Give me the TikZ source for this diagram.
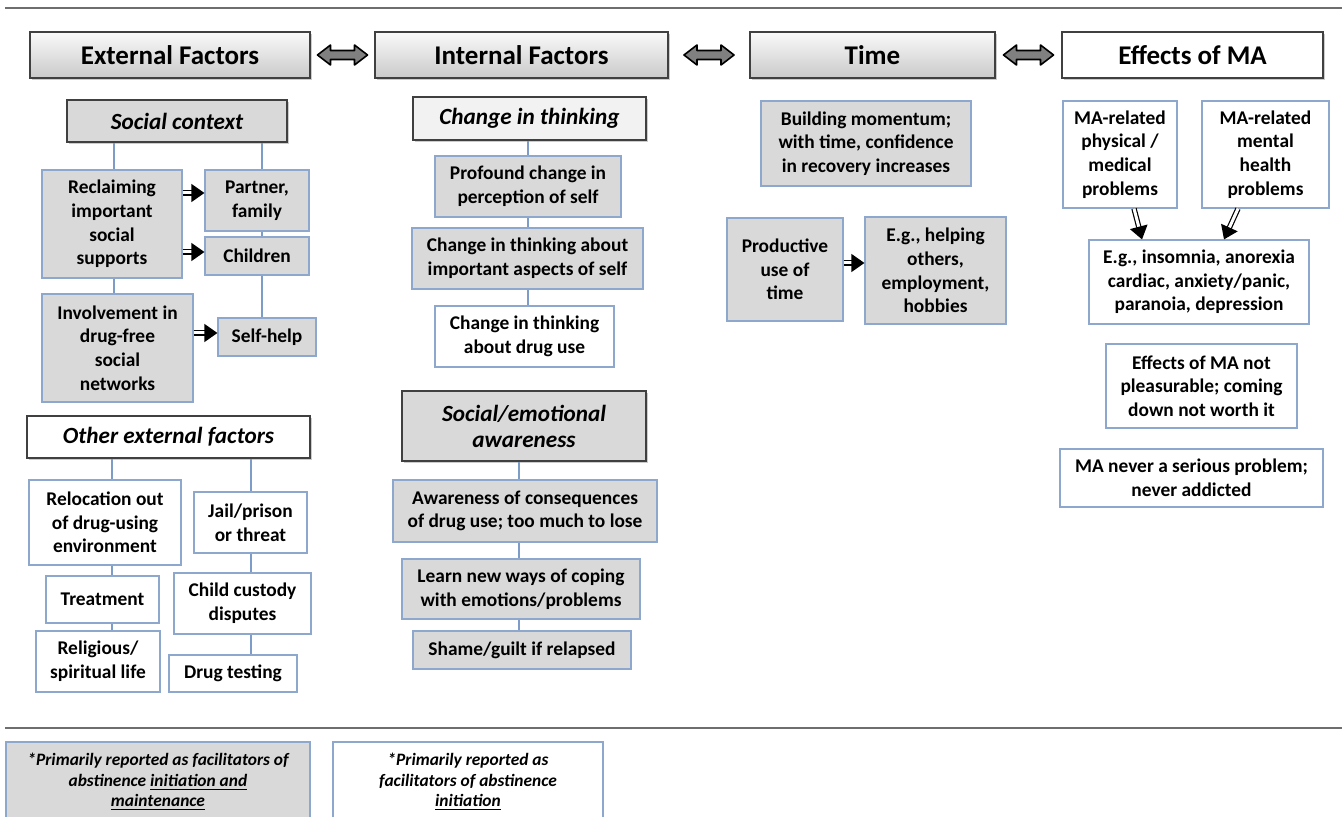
\documentclass[tikz,border=0pt]{standalone}
\usepackage{fontspec}
\setmainfont{Carlito}
\usetikzlibrary{positioning,calc,shadows,arrows.meta}

\definecolor{boxgray}{RGB}{217,217,217}
\definecolor{boxline}{RGB}{141,168,204}
\definecolor{linkblue}{RGB}{126,156,200}
\definecolor{headline}{RGB}{64,64,64}
\definecolor{arrgray}{RGB}{128,128,128}
\definecolor{rulegray}{RGB}{110,110,110}

\tikzset{
  box/.style={draw=boxline, line width=0.6pt, align=center, inner sep=0pt,
    font=\bfseries\fontsize{9.7}{11.8}\selectfont},
  gbox/.style={box, fill=boxgray},
  wbox/.style={box, fill=white},
  shade/.style={drop shadow={shadow xshift=1.2pt, shadow yshift=-1.2pt, opacity=.4}},
  head/.style={draw=headline, line width=0.7pt, inner sep=0pt, shade,
    minimum height=23pt, font=\bfseries\fontsize{13.5}{15}\selectfont},
  headg/.style={head, top color=gray!4, bottom color=gray!42},
  headw/.style={head, fill=white},
  sub/.style={draw=headline, line width=0.7pt, inner sep=0pt, align=center, shade,
    font=\bfseries\itshape\fontsize{11.6}{13}\selectfont},
  link/.style={draw=linkblue, line width=0.6pt},
  imp/.style={double, double distance=1.5pt, line width=0.6pt,
    -{Triangle[length=6.5pt, width=9pt]}},
  twoway/.pic={
    \draw[fill=arrgray, draw=black, line width=0.8pt, line join=round]
      (-25,0) -- (-12,-10) -- (-12,-4.5) -- (12,-4.5) -- (12,-10) -- (25,0)
      -- (12,10) -- (12,4.5) -- (-12,4.5) -- (-12,10) -- cycle;
  },
  rule/.style={draw=rulegray, line width=0.6pt},
  legend/.style={box, font=\bfseries\itshape\fontsize{8.7}{10.4}\selectfont}
}

\begin{document}
\begin{tikzpicture}[x=0.5pt, y=-0.5pt]
\useasboundingbox (0,0) rectangle (1342,817);
\draw[rule] (5,8) -- (1342,8);

% headers
\node[headg, minimum width=140pt] (hExt) at (170,55) {External Factors};
\node[headg, minimum width=146.5pt] (hInt) at (521.5,55) {Internal Factors};
\node[headg, minimum width=122.5pt] (hTime) at (872.5,55) {Time};
\node[headw, minimum width=130.5pt] (hEff) at (1192.5,55) {Effects of MA};
\pic at ($(hExt.east)!.5!(hInt.west)$) {twoway};
\pic at ($(hInt.east)!.5!(hTime.west)$) {twoway};
\pic at ($(hTime.east)!.5!(hEff.west)$) {twoway};

% social context
\node[sub, fill=boxgray, minimum width=110pt, minimum height=21pt] (sSoc) at (177,121) {Social context};
\node[gbox, minimum width=70pt, minimum height=54pt] (sRecl) at (112,224) {Reclaiming\\important\\social\\supports};
\node[gbox, minimum width=52pt, minimum height=30.5pt] (sPart) at (257,200.5) {Partner,\\family};
\node[gbox, minimum width=52pt, minimum height=19pt] (sChild) at (257,256) {Children};
\node[gbox, minimum width=75.5pt, minimum height=54pt] (sInv) at (117.5,348) {Involvement in\\drug-free\\social\\networks};
\node[gbox, minimum width=49pt, minimum height=19pt] (sSelf) at (267,337) {Self-help};
\coordinate (cR) at (114,0);
\coordinate (cS) at (262,0);
\draw[link] (sSoc.south -| cR) -- (sRecl.north -| cR);
\draw[link] (sRecl.south -| cR) -- (sInv.north -| cR);
\draw[link] (sSoc.south -| cS) -- (sPart.north -| cS);
\draw[link] (sPart.south -| cS) -- (sChild.north -| cS);
\draw[link] (sChild.south -| cS) -- (sSelf.north -| cS);
\coordinate (pA) at ([yshift=3.75pt]sPart.west);
\coordinate (pB) at ([yshift=2pt]sChild.west);
\coordinate (pC) at ([yshift=2pt]sSelf.west);
\draw[imp] (pA -| sRecl.east) -- (pA);
\draw[imp] (pB -| sRecl.east) -- (pB);
\draw[imp] (pC -| sInv.east) -- (pC);

% other external factors
\node[sub, fill=white, minimum width=141.5pt, minimum height=21pt] (oOth) at (168.5,437) {Other external factors};
\node[wbox, minimum width=76pt, minimum height=42.5pt] (oReloc) at (105,522.5) {Relocation out\\of drug-using\\environment};
\node[wbox, minimum width=56.5pt, minimum height=30.5pt] (oJail) at (250.5,522.5) {Jail/prison\\or threat};
\node[wbox, minimum width=56.5pt, minimum height=23.5pt] (oTreat) at (102.5,599.5) {Treatment};
\node[wbox, minimum width=68.5pt, minimum height=30.5pt] (oCust) at (242.5,603.5) {Child custody\\disputes};
\node[wbox, minimum width=62pt, minimum height=30.5pt] (oRelig) at (98,661.5) {Religious/\\spiritual life};
\node[wbox, minimum width=64pt, minimum height=18.5pt] (oDrug) at (233,673.5) {Drug testing};
\coordinate (cA) at (112,0);
\coordinate (cB) at (251,0);
\draw[link] (oOth.south -| cA) -- (oReloc.north -| cA);
\draw[link] (oReloc.south -| cA) -- (oTreat.north -| cA);
\draw[link] (oTreat.south -| cA) -- (oRelig.north -| cA);
\draw[link] (oOth.south -| cB) -- (oJail.north -| cB);
\draw[link] (oJail.south -| cB) -- (oCust.north -| cB);
\draw[link] (oCust.south -| cB) -- (oDrug.north -| cB);

% internal factors
\node[sub, fill=gray!10, minimum width=116.5pt, minimum height=21.5pt] (mChg) at (529.5,118.5) {Change in thinking};
\node[gbox, minimum width=93pt, minimum height=30.5pt] (mProf) at (528,186.5) {Profound change in\\perception of self};
\node[gbox, minimum width=115.5pt, minimum height=30.5pt] (mAsp) at (527.5,258.5) {Change in thinking about\\important aspects of self};
\node[wbox, minimum width=89.5pt, minimum height=30.5pt] (mDrug) at (524.5,336.5) {Change in thinking\\about drug use};
\node[sub, fill=boxgray, minimum width=122pt, minimum height=35pt] (mSoc) at (524,426) {Social/emotional\\awareness};
\node[gbox, minimum width=132pt, minimum height=31pt] (mAware) at (525,511) {Awareness of consequences\\of drug use; too much to lose};
\node[gbox, minimum width=119pt, minimum height=30pt] (mLearn) at (521,589) {Learn new ways of coping\\with emotions/problems};
\node[gbox, minimum width=109pt, minimum height=19pt] (mShame) at (522,650) {Shame/guilt if relapsed};
\coordinate (cM) at (528,0);
\coordinate (cN) at (519,0);
\draw[link] (mChg.south -| cM) -- (mProf.north -| cM);
\draw[link] (mProf.south -| cM) -- (mAsp.north -| cM);
\draw[link] (mAsp.south -| cM) -- (mDrug.north -| cM);
\draw[link] (mSoc.south -| cN) -- (mAware.north -| cN);
\draw[link] (mAware.south -| cN) -- (mLearn.north -| cN);
\draw[link] (mLearn.south -| cN) -- (mShame.north -| cN);

% time
\node[gbox, minimum width=105pt, minimum height=42.5pt] (tMom) at (866,143.5) {Building momentum;\\with time, confidence\\in recovery increases};
\node[gbox, minimum width=58pt, minimum height=51.5pt] (tProd) at (785,269.5) {Productive\\use of\\time};
\node[gbox, minimum width=70.5pt, minimum height=53.5pt] (tEg) at (935.5,270.5) {E.g., helping\\others,\\employment,\\hobbies};
\coordinate (pT) at ([yshift=3.25pt]tProd.east);
\draw[imp] (pT) -- (pT -| tEg.west);

% effects of MA
\node[wbox, minimum width=57pt, minimum height=53.5pt] (ePhys) at (1120,154.5) {MA-related\\physical /\\medical\\problems};
\node[wbox, minimum width=63.5pt, minimum height=53.5pt] (eMent) at (1265.5,154.5) {MA-related\\mental\\health\\problems};
\node[wbox, minimum width=110pt, minimum height=42pt] (eEg) at (1199,282) {E.g., insomnia, anorexia\\cardiac, anxiety/panic,\\paranoia, depression};
\node[wbox, minimum width=95.5pt, minimum height=42pt] (ePleas) at (1201.5,386) {Effects of MA not\\pleasurable; coming\\down not worth it};
\node[wbox, minimum width=131.5pt, minimum height=29pt] (eNever) at (1191.5,478) {MA never a serious problem;\\never addicted};
\draw[imp] ([xshift=7pt]ePhys.south) -- ([xshift=-28.5pt]eEg.north);
\draw[imp] ([xshift=-13.75pt]eMent.south) -- ([xshift=12.5pt]eEg.north);

% legend
\draw[rule] (5,728) -- (1342,728);
\node[legend, fill=boxgray, minimum width=152pt, minimum height=40pt] (lBoth) at (158,782) {*Primarily reported as facilitators of\\abstinence \underline{initiation and}\\\underline{maintenance}};
\node[legend, fill=white, minimum width=135pt, minimum height=40pt] (lInit) at (468,782) {*Primarily reported as\\facilitators of abstinence\\\underline{initiation}};
\end{tikzpicture}
\end{document}
